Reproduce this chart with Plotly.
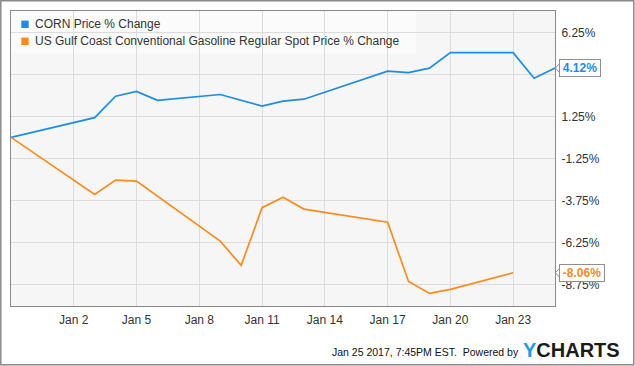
import plotly.graph_objects as go

# ---------------- data ----------------
series_names = ["CORN Price % Change",
                "US Gulf Coast Conventional Gasoline Regular Spot Price % Change"]

corn_dates = ["2016-12-30", "2017-01-03", "2017-01-04", "2017-01-05", "2017-01-06",
              "2017-01-09", "2017-01-11", "2017-01-12", "2017-01-13", "2017-01-17",
              "2017-01-18", "2017-01-19", "2017-01-20", "2017-01-23", "2017-01-24",
              "2017-01-25"]
corn_values = [0.0, 1.17, 2.45, 2.73, 2.20, 2.55, 1.86, 2.15, 2.27, 3.94,
               3.85, 4.12, 5.04, 5.04, 3.52, 4.12]

gas_dates = ["2016-12-30", "2017-01-03", "2017-01-04", "2017-01-05", "2017-01-09",
             "2017-01-10", "2017-01-11", "2017-01-12", "2017-01-13", "2017-01-17",
             "2017-01-18", "2017-01-19", "2017-01-20", "2017-01-23"]
gas_values = [0.0, -3.40, -2.55, -2.61, -6.18, -7.62, -4.19, -3.56, -4.27, -5.05,
              -8.58, -9.29, -9.05, -8.06]

x_tick_vals = ["2017-01-02", "2017-01-05", "2017-01-08", "2017-01-11", "2017-01-14",
               "2017-01-17", "2017-01-20", "2017-01-23"]
x_tick_text = ["Jan 2", "Jan 5", "Jan 8", "Jan 11", "Jan 14", "Jan 17", "Jan 20", "Jan 23"]
y_tick_vals = [-8.75, -6.25, -3.75, -1.25, 1.25, 3.75, 6.25]
y_tick_text = ["-8.75%", "-6.25%", "-3.75%", "-1.25%", "1.25%", "3.75%", "6.25%"]

footer_text = "Jan 25 2017, 7:45PM EST.  Powered by"

# ---------------- styling ----------------
W_FIG, H_FIG = 635, 366
ML, MR, MT, MB = 11, 80, 11, 60
PW = W_FIG - ML - MR
PH = H_FIG - MT - MB
BLUE = "#1d8ce8"
ORANGE = "#fd8a1d"
FONT = "Liberation Sans, Arial, sans-serif"
TXT = "#333333"


def px_x(px):
    return (px - ML) / PW


def px_y(py):
    return (MT + PH - py) / PH


fig = go.Figure()
fig.add_trace(go.Scatter(x=corn_dates, y=corn_values, mode="lines",
                         line=dict(color=BLUE, width=1.7), name=series_names[0],
                         showlegend=False, hoverinfo="skip"))
fig.add_trace(go.Scatter(x=gas_dates, y=gas_values, mode="lines",
                         line=dict(color=ORANGE, width=1.7), name=series_names[1],
                         showlegend=False, hoverinfo="skip"))

shapes = []
annotations = []

# legend (manual)
shapes.append(dict(type="rect", xref="paper", yref="paper", layer="between",
                   x0=px_x(11), x1=px_x(416), y0=px_y(11), y1=px_y(52.7),
                   fillcolor="rgba(255,255,255,0.6)", line=dict(width=0)))
leg_rows = [24.3, 41.3]
for name, col, cy in zip(series_names, [BLUE, ORANGE], leg_rows):
    shapes.append(dict(type="rect", xref="paper", yref="paper", layer="above",
                       x0=px_x(21.3), x1=px_x(28.7), y0=px_y(cy + 3.7), y1=px_y(cy - 3.7),
                       fillcolor=col, line=dict(width=0)))
    annotations.append(dict(text=name, xref="paper", yref="paper", x=px_x(32.5), y=px_y(cy),
                            xanchor="left", yanchor="middle", showarrow=False,
                            font=dict(family=FONT, size=12, color=TXT)))

# last value callouts
last_vals = [corn_values[-1], gas_values[-1]]
box_w = [38, 42]
for val, col, bw in zip(last_vals, [BLUE, ORANGE], box_w):
    annotations.append(dict(text=f"<b>{val:.2f}%</b>", xref="paper", yref="y", x=1,
                            y=val, xanchor="left", yanchor="middle", xshift=4,
                            width=bw, height=14, align="center", showarrow=False,
                            bgcolor="white", bordercolor="#8f8f8f", borderwidth=1,
                            borderpad=1,
                            font=dict(family=FONT, size=12, color=col)))
    shapes.append(dict(type="path", xref="paper", yref="y", xsizemode="pixel",
                       ysizemode="pixel", xanchor=1, yanchor=val,
                       path="M 4.5,4.5 L 0.5,0 L 4.5,-4.5",
                       fillcolor="white", line=dict(color="#8f8f8f", width=1),
                       layer="above"))

# tick labels hidden behind a callout (as in the source chart)
shown_y_text = [("" if any(abs(v - lv) < 0.5 for lv in last_vals) else t)
                for v, t in zip(y_tick_vals, y_tick_text)]

# outer border
shapes.append(dict(type="rect", xref="paper", yref="paper", layer="above",
                   x0=px_x(0.8), x1=px_x(633.8), y0=px_y(0.8), y1=px_y(364.8),
                   line=dict(color="#8a8a8a", width=1.5), fillcolor="rgba(0,0,0,0)"))

# footer
annotations.append(dict(text=footer_text, xref="paper", yref="paper", x=px_x(520.5),
                        y=px_y(352), xanchor="right", yanchor="middle", showarrow=False,
                        font=dict(family=FONT, size=10.5, color="#111111")))
annotations.append(dict(text="<span style='color:#1a9af0'>Y</span>CHARTS", xref="paper",
                        yref="paper", x=px_x(521), y=px_y(350), xanchor="left",
                        yanchor="middle", showarrow=False,
                        font=dict(family=FONT, size=20, color="#1b1b1b", weight="bold")))

fig.update_layout(
    width=W_FIG, height=H_FIG,
    margin=dict(l=ML, r=MR, t=MT, b=MB, pad=0),
    paper_bgcolor="white", plot_bgcolor="#f6f6f6",
    showlegend=False,
    shapes=shapes, annotations=annotations,
    xaxis=dict(type="date", range=["2016-12-30", "2017-01-25"],
               tickvals=x_tick_vals, ticktext=x_tick_text,
               showgrid=True, gridcolor="#dcdcdc", gridwidth=1,
               showline=True, linecolor="#8a8a8a", linewidth=1, mirror=True,
               ticks="", ticklabelstandoff=3, zeroline=False,
               tickfont=dict(family=FONT, size=12, color=TXT)),
    yaxis=dict(range=[-10.04, 7.52], side="right",
               tickvals=y_tick_vals, ticktext=shown_y_text,
               showgrid=True, gridcolor="#dcdcdc", gridwidth=1,
               showline=True, linecolor="#8a8a8a", linewidth=1, mirror=True,
               ticks="", ticklabelstandoff=3, zeroline=False,
               tickfont=dict(family=FONT, size=12, color=TXT)),
)

fig.write_html("out.html", config={"displayModeBar": False},
               post_script="document.body.style.margin='0';")
